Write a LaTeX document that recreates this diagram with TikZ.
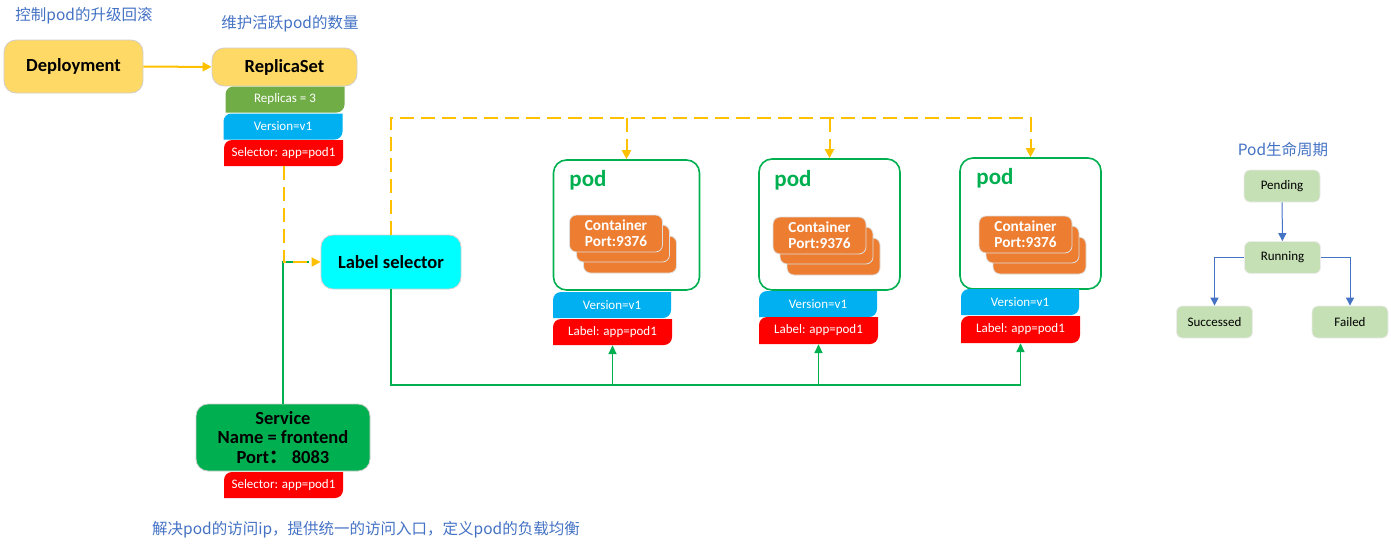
\documentclass[tikz,border=0pt]{standalone}
\usepackage{fontspec}
\setmainfont{Carlito}
\newfontfamily\cjk{Noto Sans CJK SC}
\usetikzlibrary{arrows.meta}
\definecolor{capblue}{HTML}{4472C4}
\definecolor{dyellow}{HTML}{FFD966}
\definecolor{lyellow}{HTML}{FFC000}
\definecolor{kgreen}{HTML}{00B050}
\definecolor{tgreen}{HTML}{70AD47}
\definecolor{tblue}{HTML}{00B0F0}
\definecolor{tred}{HTML}{FF0000}
\definecolor{corange}{HTML}{ED7D31}
\definecolor{lgreen}{HTML}{C5E0B4}
\definecolor{bgray}{HTML}{D0CECE}
\definecolor{cyanbox}{HTML}{00FFFF}
\tikzset{
  caption/.style={text=capblue, font=\cjk\fontsize{15.5}{18}\selectfont, inner sep=0pt},
  bigbox/.style={draw=bgray, line width=0.8pt, rounded corners=12pt, inner sep=0pt, align=center, font=\bfseries\fontsize{18.5}{21}\selectfont},
  tabbox/.style={minimum width=119pt, minimum height=26pt, inner sep=0pt, text=white, font=\fontsize{13}{15}\selectfont,
    path picture={\fill[#1] ([yshift=-8pt]path picture bounding box.north west) arc[start angle=180,end angle=90,radius=8pt]
      -- (path picture bounding box.north east) -- ([yshift=8pt]path picture bounding box.south east)
      arc[start angle=0,end angle=-90,radius=8pt] -- (path picture bounding box.south west) -- cycle;}},
  podbox/.style={draw=kgreen, line width=1.6pt, rounded corners=13pt, minimum width=146pt, minimum height=130pt, inner sep=0pt},
  podtext/.style={text=kgreen, font=\bfseries\fontsize{23}{26}\selectfont, inner sep=0pt},
  cont/.style={fill=corange, draw=white!75!gray, line width=0.8pt, rounded corners=7pt, minimum width=93pt, minimum height=37pt, inner sep=0pt, text=white, align=center, font=\bfseries\fontsize{15.3}{16}\selectfont},
  ybar/.style={draw=lyellow, line width=2pt},
  ydash/.style={draw=lyellow, line width=2pt, dash pattern=on 14pt off 7pt},
  garr/.style={draw=kgreen, line width=1.8pt},
  ytip/.style={-{Triangle[length=9pt,width=9pt]}},
  lbox/.style={fill=lgreen, draw=white!85!gray, line width=0.8pt, rounded corners=6pt, minimum width=76pt, minimum height=32pt, inner sep=0pt, font=\fontsize{13}{15}\selectfont},
  larr/.style={draw=capblue, line width=1pt, -{Triangle[length=8pt,width=8pt]}}
}
\begin{document}
\begin{tikzpicture}[x=1pt,y=-1pt]
\useasboundingbox (0,0) rectangle (1391,549);
% captions
\node[caption] (cap1) at (84,16) {控制pod的升级回滚};
\node[caption] (cap2) at (290,24) {维护活跃pod的数量};
\node[caption] (cap3) at (366,530) {解决pod的访问ip，提供统一的访问入口，定义pod的负载均衡};
\node[caption] (cap4) at (1283,150) {Pod生命周期};
% deployment / replicaset
\node[bigbox, fill=dyellow, minimum width=139pt, minimum height=53pt] (dep) at (73.5,66.5) {Deployment};
\node[bigbox, fill=dyellow, minimum width=145pt, minimum height=38pt] (rs) at (284.5,67) {ReplicaSet};
\node[tabbox=tgreen] (rep) at (285,99.5) {Replicas = 3};
\node[tabbox=tblue] (rsver) at (283,126.5) {Version=v1};
\node[tabbox=tred] (rssel) at (283.5,153) {Selector: app=pod1};
% label selector, service
\node[bigbox, fill=cyanbox, minimum width=140pt, minimum height=54pt] (lbl) at (391,262) {Label selector};
\node[bigbox, fill=kgreen, minimum width=174pt, minimum height=67pt, font=\bfseries\fontsize{18.5}{19.5}\selectfont] (svc) at (283,437.5) {Service\\Name = frontend\\Port{\cjk ：}\ 8083};
\node[tabbox=tred] (svcsel) at (283.5,485) {Selector: app=pod1};
% pods
\node[podbox] (pod1) at (626.5,225) {};
\node[podbox, minimum width=141pt, minimum height=131pt] (pod2) at (829.5,224.5) {};
\node[podbox, minimum width=141pt, minimum height=131pt] (pod3) at (1030.5,223.5) {};
\node[podtext] (pt1) at (588,180) {pod};
\node[podtext] (pt2) at (793,180) {pod};
\node[podtext] (pt3) at (995,178) {pod};
\foreach \n/\x/\y in {1/616/233.5, 2/819.5/235.5, 3/1025.5/234.5}{
  \node[cont] (c\n c) at (\x+14,\y+21) {};
  \node[cont] (c\n b) at (\x+7,\y+10) {};
  \node[cont] (c\n a) at (\x,\y) {Container\\Port:9376};
}
\node[tabbox=tblue, minimum width=118pt] (ver1) at (612,305) {Version=v1};
\node[tabbox=tred] (lab1) at (612.5,332) {Label: app=pod1};
\node[tabbox=tblue, minimum width=118pt] (ver2) at (818,304) {Version=v1};
\node[tabbox=tred, minimum height=27pt] (lab2) at (818.5,330.5) {Label: app=pod1};
\node[tabbox=tblue, minimum width=118pt] (ver3) at (1020,302) {Version=v1};
\node[tabbox=tred, minimum height=27pt] (lab3) at (1020.5,329.5) {Label: app=pod1};
% connectors
\draw[ybar, ytip] (dep) -- (rs);
\draw[garr] (svc.north) |- ([xshift=-12pt]lbl.west);
\draw[ydash, ytip] (rssel.south) |- (lbl.west);
\coordinate (top) at (390,118);
\coordinate (bus) at (390,385);
\draw[ydash, ytip] (lbl.north) |- (pod3.north |- top) -- (pod3.north);
\draw[ydash, ytip] (pod1.north |- top) -- (pod1.north);
\draw[ydash, ytip] (pod2.north |- top) -- (pod2.north);
\draw[garr, -{Triangle[length=9pt,width=8pt]}] (lbl.south) |- (lab3.south |- bus) -- (lab3.south);
\draw[garr, -{Triangle[length=9pt,width=8pt]}] (lab1.south |- bus) -- (lab1.south);
\draw[garr, -{Triangle[length=9pt,width=8pt]}] (lab2.south |- bus) -- (lab2.south);
% lifecycle
\node[lbox] (pend) at (1282,186) {Pending};
\node[lbox] (run) at (1282.5,257.5) {Running};
\node[lbox] (succ) at (1214.5,322) {Successed};
\node[lbox] (fail) at (1350,322) {Failed};
\draw[larr] (pend) -- (run);
\draw[larr] (run.west) -| (succ.north);
\draw[larr] (run.east) -| (fail.north);
\end{tikzpicture}
\end{document}
